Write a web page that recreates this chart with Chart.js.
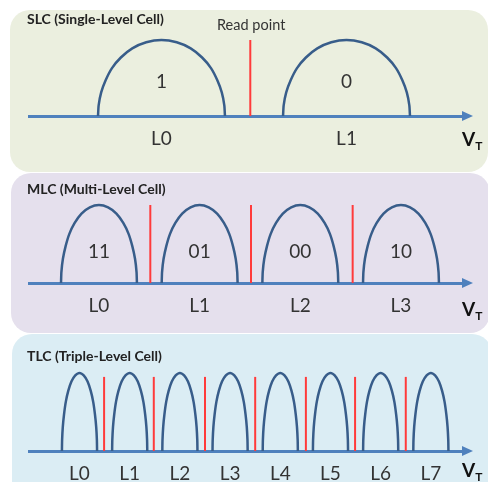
<!DOCTYPE html>
<html>
<head>
<meta charset="utf-8">
<script src="https://cdn.jsdelivr.net/npm/chart.js@4.4.0/dist/chart.umd.min.js"></script>
<style>
  body { margin: 0; background: #fff; width: 488px; height: 482px; overflow: hidden; position: relative; font-family: Lato, "Open Sans", sans-serif; }
  .panel { position: absolute; border-radius: 20px; }
  .box { position: absolute; left: 0; width: 488px; }
  .title { position: absolute; left: 27px; font-weight: bold; font-size: 14px; line-height: 14px; color: #222; white-space: nowrap; }
  .note { position: absolute; font-size: 14.5px; line-height: 14px; color: #333; white-space: nowrap; }
  .vt { position: absolute; left: 462px; font-weight: bold; font-size: 19px; line-height: 19px; color: #111; }
  .vt sub { font-size: 12px; vertical-align: -4px; }
</style>
</head>
<body>
<div class="panel" style="left:10px;top:10px;width:478px;height:162px;background:#ebefdf"></div>
<div class="panel" style="left:11px;top:173px;width:479px;height:160px;background:#e5e0ed"></div>
<div class="panel" style="left:12px;top:334px;width:480px;height:170px;background:#dbedf4"></div>

<div class="box" style="top:0;height:172px"><canvas id="slc"></canvas></div>
<div class="box" style="top:173px;height:160px"><canvas id="mlc"></canvas></div>
<div class="box" style="top:334px;height:148px"><canvas id="tlc"></canvas></div>

<div class="title" style="top:12px">SLC (Single-Level Cell)</div>
<div class="note" style="left:217px;top:18px">Read point</div>
<div class="vt" style="top:129px">V<sub>T</sub></div>
<div class="title" style="top:182px">MLC (Multi-Level Cell)</div>
<div class="vt" style="top:299px">V<sub>T</sub></div>
<div class="title" style="top:349px">TLC (Triple-Level Cell)</div>
<div class="vt" style="top:460px">V<sub>T</sub></div>

<script>
// SLC
const slcLevels = ['L0', 'L1'];
const slcStates = ['1', '0'];
const slcReadPoints = [0.48];
const slcHalfWidth = 0.343;

// MLC
const mlcLevels = ['L0', 'L1', 'L2', 'L3'];
const mlcStates = ['11', '01', '00', '10'];
const mlcReadPoints = [0.51, 1.51, 2.52];
const mlcHalfWidth = 0.377;

// TLC
const tlcLevels = ['L0', 'L1', 'L2', 'L3', 'L4', 'L5', 'L6', 'L7'];
const tlcStates = [];
const tlcReadPoints = [0.49, 1.48, 2.50, 3.50, 4.51, 5.49, 6.50];
const tlcHalfWidth = 0.35;

// shape of one threshold voltage distribution
const archX = [-1, -0.99, -0.95, -0.88, -0.78, -0.64, -0.46, -0.24, 0, 0.24, 0.46, 0.64, 0.78, 0.88, 0.95, 0.99, 1];
const archY = [0, 0.14, 0.31, 0.47, 0.63, 0.77, 0.89, 0.97, 1, 0.97, 0.89, 0.77, 0.63, 0.47, 0.31, 0.14, 0];

// arrow head + state labels
const extras = {
    id: 'extras',
    afterDatasetsDraw(chart, args, opts) {
        const { ctx, chartArea, scales: { x, y } } = chart;
        ctx.save();
        const ay = chartArea.bottom;
        ctx.fillStyle = '#4f81bd';
        ctx.beginPath();
        ctx.moveTo(chartArea.right - 2, ay - 5);
        ctx.lineTo(chartArea.right + 9, ay);
        ctx.lineTo(chartArea.right - 2, ay + 5);
        ctx.closePath();
        ctx.fill();

        ctx.fillStyle = '#333';
        ctx.font = '19px Lato';
        ctx.textAlign = 'center';
        ctx.textBaseline = 'middle';
        opts.states.forEach((s, i) => {
            ctx.fillText(s, x.getPixelForValue(i), y.getPixelForValue(opts.labelY));
        });
        ctx.restore();
    }
};

function makeChart(id, cfg) {
    const datasets = [];
    cfg.levels.forEach((l, i) => {
        datasets.push({
            data: archX.map((u, k) => ({ x: i + u * cfg.halfWidth, y: archY[k] })),
            borderColor: '#385d8a',
            borderWidth: 2.5,
            tension: 0.2,
            pointRadius: 0,
            fill: false,
            clip: false
        });
    });
    cfg.readPoints.forEach(t => {
        datasets.push({
            data: [{ x: t, y: 0 }, { x: t, y: cfg.readHeight }],
            borderColor: '#ff3b3b',
            borderWidth: 2,
            pointRadius: 0,
            clip: false
        });
    });

    return new Chart(document.getElementById(id), {
        type: 'line',
        data: { datasets },
        plugins: [extras],
        options: {
            responsive: true,
            maintainAspectRatio: false,
            animation: false,
            layout: { padding: { left: 29, right: 24, top: cfg.top, bottom: 0 } },
            plugins: {
                legend: { display: false },
                tooltip: { enabled: false },
                extras: { states: cfg.states, labelY: cfg.labelY }
            },
            scales: {
                x: {
                    type: 'linear',
                    min: cfg.xMin,
                    max: cfg.xMax,
                    grid: { display: false, drawTicks: false },
                    border: { display: true, color: '#4f81bd', width: 3 },
                    afterBuildTicks: s => { s.ticks = cfg.levels.map((l, i) => ({ value: i })); },
                    afterFit: s => { s.height = cfg.axisHeight; },
                    ticks: {
                        autoSkip: false,
                        maxRotation: 0,
                        padding: cfg.labelPad,
                        color: '#333',
                        font: { family: 'Lato', size: 19 },
                        callback: v => cfg.levels[Math.round(v)]
                    }
                },
                y: { display: false, min: 0, max: 1 }
            }
        }
    });
}

makeChart('slc', {
    levels: slcLevels, states: slcStates, readPoints: slcReadPoints, halfWidth: slcHalfWidth,
    xMin: -0.716, xMax: 1.635, readHeight: 1, labelY: 0.45, top: 40, axisHeight: 56, labelPad: 11
});
makeChart('mlc', {
    levels: mlcLevels, states: mlcStates, readPoints: mlcReadPoints, halfWidth: mlcHalfWidth,
    xMin: -0.695, xMax: 3.626, readHeight: 1, labelY: 0.40, top: 32, axisHeight: 50, labelPad: 11
});
makeChart('tlc', {
    levels: tlcLevels, states: tlcStates, readPoints: tlcReadPoints, halfWidth: tlcHalfWidth,
    xMin: -1.006, xMax: 7.66, readHeight: 0.95, labelY: 0.4, top: 39, axisHeight: 31, labelPad: 11
});
</script>
</body>
</html>
